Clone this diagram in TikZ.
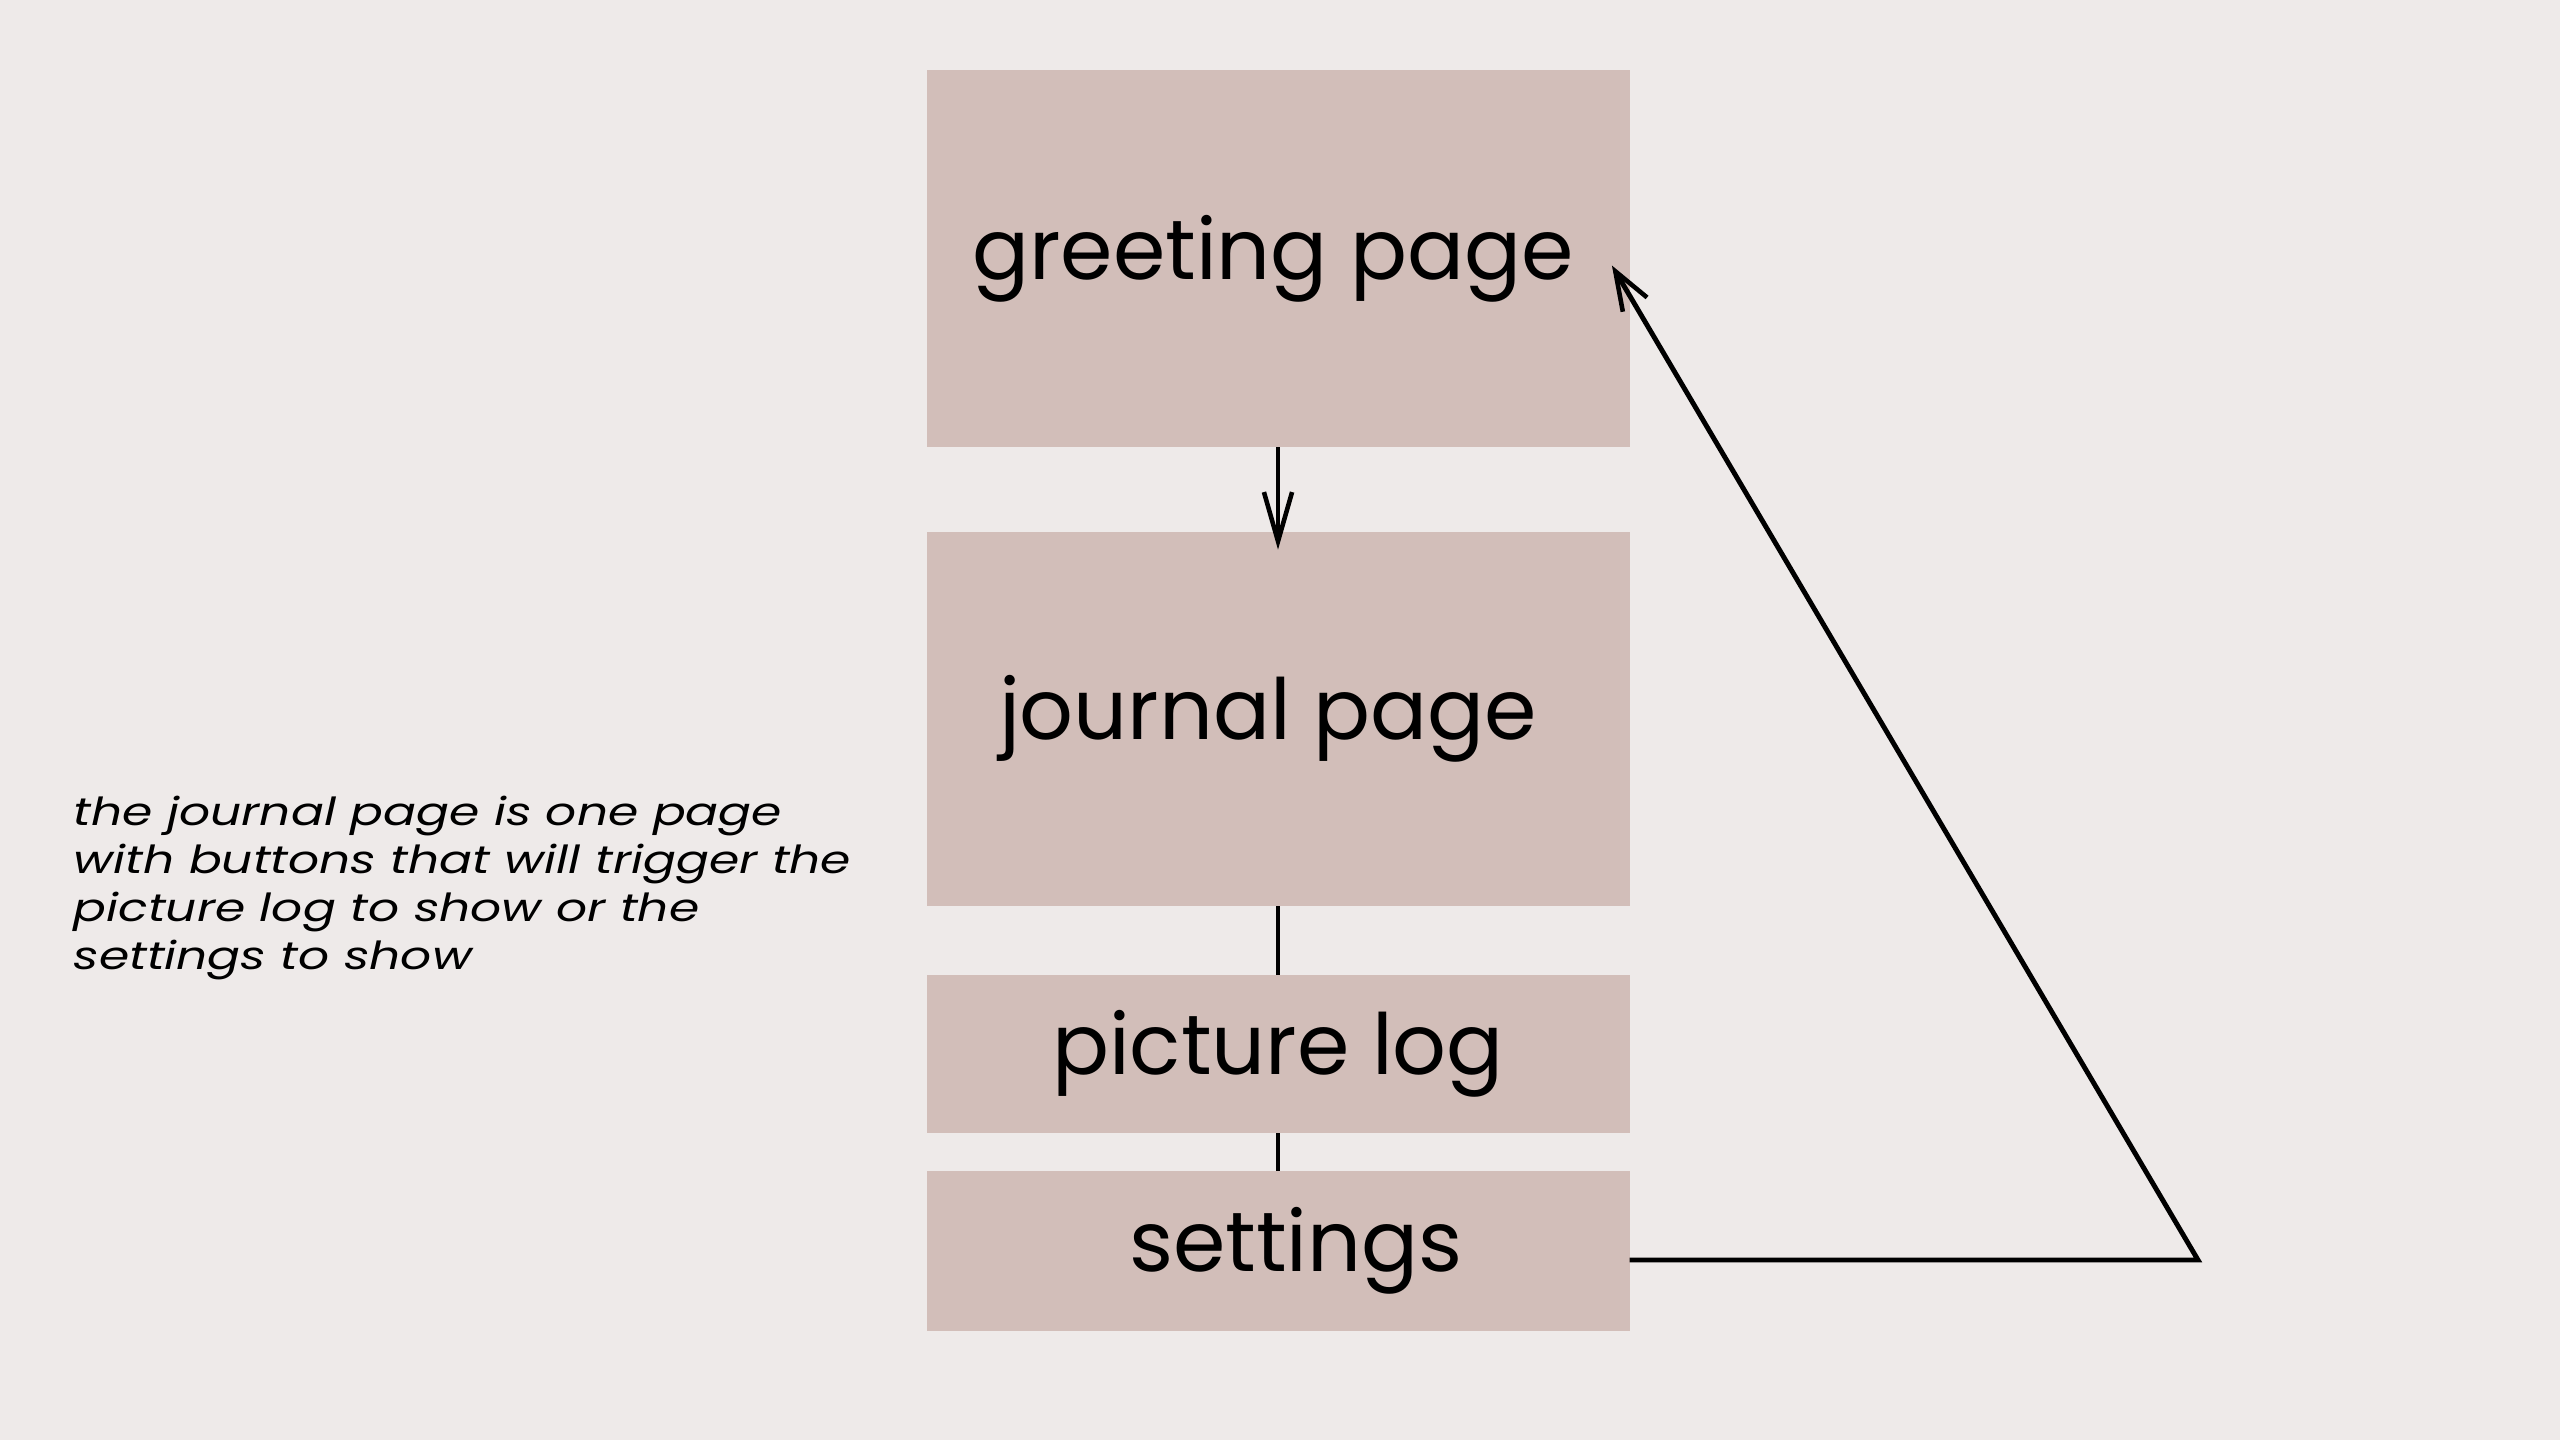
\documentclass[tikz,border=0pt]{standalone}
\usepackage{fontspec}
\setmainfont{Poppins}
\newfontfamily\notefont[FakeStretch=1.26]{Poppins}
\usetikzlibrary{positioning,arrows.meta}
\definecolor{bgnd}{HTML}{EEEAE9}
\definecolor{pg}{HTML}{D2BEB9}
\tikzset{
  pgbox/.style={fill=pg, inner sep=0pt, outer sep=0pt, minimum width=7.03cm, font=\fontsize{24}{28}\selectfont},
  lnk/.style={line width=1.4pt},
  barb/.style={lnk, -{Straight Barb[length=11pt, width=8pt, line width=1.3pt]}}}
\begin{document}
\begin{tikzpicture}
\useasboundingbox (0,0) rectangle (25.6,-14.4);
\fill[bgnd] (0,0) rectangle (25.6,-14.4);
\node[pgbox, minimum height=3.77cm] (greet) at (12.78,-2.585) {greeting page\hspace*{0.1cm}};
\node[pgbox, minimum height=3.74cm, below=0.85cm of greet] (journal) {journal page\hspace*{0.2cm}};
\node[pgbox, minimum height=1.58cm, below=0.69cm of journal] (piclog) {picture log};
\node[pgbox, minimum height=1.60cm, below=0.38cm of piclog] (settings) {\hspace*{0.36cm}settings};
\node[anchor=north west, inner sep=0pt, align=left, font=\fontsize{11}{13.7}\selectfont\notefont\itshape] (note) at (0.73,-7.95)
  {the journal page is one page\\with buttons that will trigger the\\picture log to show or the\\settings to show};
\coordinate (turn) at (21.98,-12.60);
% links between the pages
\draw[barb, -{Straight Barb[length=14pt, width=8pt, line width=1.3pt]}] (greet.south) -- ([yshift=-5pt]journal.north);
\draw[lnk] (journal) -- (piclog);
\draw[lnk] (piclog) -- (settings);
\draw[barb] (settings.east |- turn) -- (turn) -- ([xshift=-5pt, yshift=-2pt]greet.east);
\end{tikzpicture}
\end{document}
